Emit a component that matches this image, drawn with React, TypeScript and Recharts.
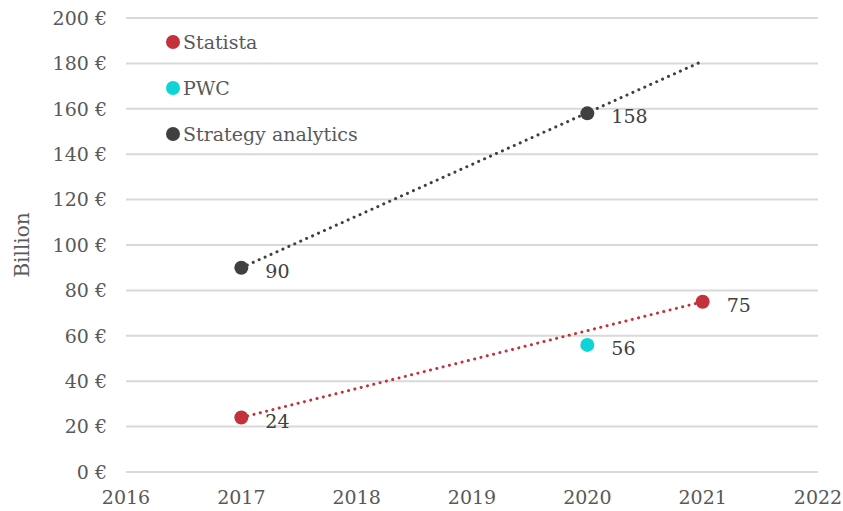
import React from 'react';
import { ComposedChart, Scatter, XAxis, YAxis, CartesianGrid, Legend } from 'recharts';

const years = [2016, 2017, 2018, 2019, 2020, 2021, 2022];
const euroTicks = [0, 20, 40, 60, 80, 100, 120, 140, 160, 180, 200];
const sourceNames = ['Statista', 'PWC', 'Strategy analytics'];

const statista = [
    { x: 2017, y: 24 },
    { x: 2021, y: 75 },
];
const pwc = [{ x: 2020, y: 56 }];
const strategy = [
    { x: 2017, y: 90 },
    { x: 2020, y: 158 },
];

// trendlines
const statistaTrend = [
    { x: 2017, y: 24 },
    { x: 2021, y: 75 },
];
const strategyTrend = [
    { x: 2017, y: 90 },
    { x: 2021, y: 181 },
];

const RED = '#C3313B';
const CYAN = '#0DD5D5';
const DARK = '#404040';
const TEXT = '#595959';
const FONT = '"DejaVu Serif", "Liberation Serif", serif';

const PointWithLabel = (color: string) => (props: any) => {
    const { cx, cy, payload } = props;
    return (
        <g>
            <circle cx={cx} cy={cy} r={7} fill={color} />
            <text x={cx + 24} y={cy + 10} fill={DARK} fontSize={19} fontFamily={FONT}>
                {payload.y}
            </text>
        </g>
    );
};

const renderLegend = (props: any) => {
    const items = (props.payload || [])
        .filter((p: any) => p.type !== 'none' && sourceNames.includes(p.value))
        .sort((a: any, b: any) => sourceNames.indexOf(a.value) - sourceNames.indexOf(b.value));
    return (
        <div style={{ fontFamily: FONT, fontSize: 19, color: TEXT }}>
            {items.map((item: any) => (
                <div key={item.value} style={{ display: 'flex', alignItems: 'center', height: 46 }}>
                    <span
                        style={{
                            width: 14,
                            height: 14,
                            borderRadius: 7,
                            background: item.color,
                            display: 'inline-block',
                            marginRight: 3,
                        }}
                    />
                    <span style={{ whiteSpace: 'nowrap' }}>{item.value}</span>
                </div>
            ))}
        </div>
    );
};

const trendLine = (color: string) => ({
    stroke: color,
    strokeWidth: 3,
    strokeDasharray: '0.1 6.4',
    strokeLinecap: 'round' as const,
});

const App: React.FC = () => {
    return (
        <div style={{ position: 'fixed', left: 0, top: 0, background: '#fff' }}>
            <ComposedChart width={843} height={511} margin={{ top: 18, right: 25, bottom: 0, left: 0 }}>
                <CartesianGrid vertical={false} stroke="#D9D9D9" strokeWidth={2} />
                <XAxis
                    dataKey="x"
                    type="number"
                    domain={[2016, 2022]}
                    ticks={years}
                    axisLine={false}
                    tickLine={false}
                    height={39}
                    tickMargin={13}
                    tick={{ fill: TEXT, fontSize: 19, fontFamily: FONT }}
                />
                <YAxis
                    dataKey="y"
                    type="number"
                    domain={[0, 200]}
                    ticks={euroTicks}
                    axisLine={false}
                    tickLine={false}
                    width={126}
                    tickMargin={13}
                    tickFormatter={(v: number) => `${v} €`}
                    tick={{ fill: TEXT, fontSize: 19, fontFamily: FONT }}
                    label={({ viewBox }: any) => (
                        <text
                            x={viewBox.x + 22}
                            y={viewBox.y + viewBox.height / 2}
                            transform={`rotate(-90, ${viewBox.x + 22}, ${viewBox.y + viewBox.height / 2})`}
                            textAnchor="middle"
                            dominantBaseline="central"
                            fill={TEXT}
                            fontSize={20}
                            fontFamily={FONT}
                        >
                            Billion
                        </text>
                    )}
                />
                <Legend
                    layout="vertical"
                    align="center"
                    verticalAlign="middle"
                    content={renderLegend}
                    wrapperStyle={{ left: 166, top: 19, width: 'auto', height: 'auto' }}
                />
                <Scatter
                    name="Strategy trend"
                    data={strategyTrend}
                    line={trendLine(DARK)}
                    lineType="joint"
                    shape={() => <g />}
                    legendType="none"
                    isAnimationActive={false}
                />
                <Scatter
                    name="Statista trend"
                    data={statistaTrend}
                    line={trendLine(RED)}
                    lineType="joint"
                    shape={() => <g />}
                    legendType="none"
                    isAnimationActive={false}
                />
                <Scatter name="Statista" data={statista} fill={RED} shape={PointWithLabel(RED)} isAnimationActive={false} />
                <Scatter name="PWC" data={pwc} fill={CYAN} shape={PointWithLabel(CYAN)} isAnimationActive={false} />
                <Scatter
                    name="Strategy analytics"
                    data={strategy}
                    fill={DARK}
                    shape={PointWithLabel(DARK)}
                    isAnimationActive={false}
                />
            </ComposedChart>
        </div>
    );
};

export default App;
